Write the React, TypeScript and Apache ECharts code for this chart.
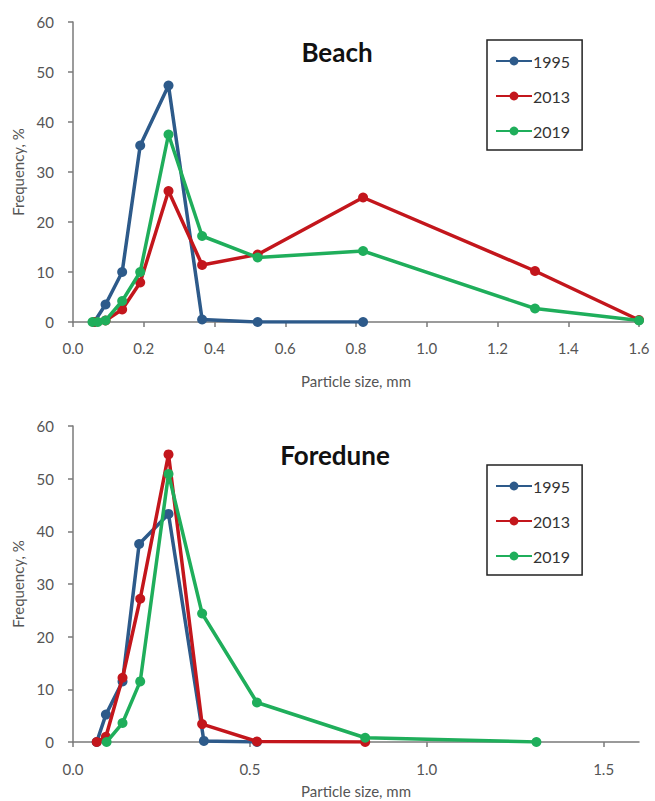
import React, { useEffect, useRef } from "react";
import * as echarts from "echarts";

const years = ["1995", "2013", "2019"];
const colors = ["#2d5a8a", "#c3161c", "#1fae5b"];

// Beach (particle size mm, frequency %)
const beachSize1995 = [0.06, 0.092, 0.139, 0.19, 0.27, 0.365, 0.522, 0.82];
const beach1995 = [0, 3.5, 10, 35.3, 47.3, 0.5, 0, 0];
const beachSize2013 = [0.06, 0.092, 0.139, 0.19, 0.27, 0.365, 0.522, 0.82, 1.306, 1.6];
const beach2013 = [0, 0.3, 2.5, 7.9, 26.2, 11.4, 13.5, 24.9, 10.2, 0.4];
const beachSize2019 = [0.055, 0.07, 0.092, 0.139, 0.19, 0.27, 0.365, 0.522, 0.82, 1.306, 1.6];
const beach2019 = [0, 0, 0.3, 4.2, 10, 37.5, 17.2, 12.9, 14.2, 2.7, 0.3];

// Foredune
const duneSize1995 = [0.067, 0.093, 0.14, 0.187, 0.27, 0.37, 0.52];
const dune1995 = [0, 5.2, 11.5, 37.6, 43.3, 0.2, 0];
const duneSize2013 = [0.067, 0.093, 0.14, 0.19, 0.27, 0.365, 0.52, 0.826];
const dune2013 = [0, 1, 12.2, 27.2, 54.6, 3.4, 0.1, 0];
const duneSize2019 = [0.095, 0.14, 0.19, 0.27, 0.365, 0.52, 0.826, 1.31];
const dune2019 = [0, 3.6, 11.5, 50.9, 24.4, 7.5, 0.8, 0];

const yTicks = { min: 0, max: 60, interval: 10 };
const beachXTicks = { min: 0, max: 1.6, interval: 0.2 };
const duneXTickValues = [0, 0.5, 1.0, 1.5];

const FONT = "Lato, 'Open Sans', sans-serif";

function pairs(xs: number[], ys: number[]) {
  return xs.map((x, i) => [x, ys[i]]);
}

export default function App() {
  const ref = useRef<HTMLDivElement>(null);
  useEffect(() => {
    if (!ref.current) return;
    const chart = echarts.init(ref.current, null, { renderer: "svg" });
    const axisColor = "#7a7a7a";
    const labelColor = "#555";
    const yAxisBase = (gridIndex: number, nameGap: number) => ({
      type: "value",
      gridIndex,
      min: yTicks.min,
      max: yTicks.max,
      interval: yTicks.interval,
      name: "Frequency, %",
      nameLocation: "middle",
      nameGap,
      nameTextStyle: { fontFamily: FONT, fontSize: 15, color: labelColor },
      axisLine: { show: true, lineStyle: { color: axisColor, width: 1.5 } },
      axisTick: { show: true, length: 5, lineStyle: { color: axisColor, width: 1.5 } },
      axisLabel: { fontFamily: FONT, fontSize: 15, color: labelColor, margin: 19 },
      splitLine: { show: false },
    });
    const seriesFor = (gridIdx: number, sets: number[][][]) =>
      sets.map((d, i) => ({
        type: "line",
        name: years[i],
        xAxisIndex: gridIdx,
        yAxisIndex: gridIdx,
        data: d,
        symbol: "circle",
        symbolSize: 10,
        lineStyle: { width: 3.5, color: colors[i] },
        itemStyle: { color: colors[i] },
        z: 2 + i,
      }));
    const legendBase = (top: number) => ({
      orient: "vertical",
      left: 487,
      top,
      data: years,
      borderColor: "#222",
      borderWidth: 1.5,
      padding: [13, 12, 11, 8],
      itemGap: 19,
      itemWidth: 36,
      itemHeight: 11,
      textStyle: { fontFamily: FONT, fontSize: 16, color: "#333", padding: [0, 0, 0, -4] },
      selectedMode: false,
    });
    chart.setOption({
      animation: false,
      backgroundColor: "#fff",
      color: colors,
      title: [
        {
          text: "Beach",
          left: 332,
          top: 34,
          textAlign: "center",
          textStyle: { fontFamily: FONT, fontSize: 26, fontWeight: "bold", color: "#111" },
        },
        {
          text: "Foredune",
          left: 330,
          top: 437,
          textAlign: "center",
          textStyle: { fontFamily: FONT, fontSize: 26, fontWeight: "bold", color: "#111" },
        },
      ],
      legend: [legendBase(40), legendBase(465)],
      grid: [
        { left: 73, right: 16, top: 22, height: 300 },
        { left: 73, right: 16, top: 426, height: 316 },
      ],
      xAxis: [
        {
          type: "value",
          gridIndex: 0,
          min: beachXTicks.min,
          max: beachXTicks.max,
          interval: beachXTicks.interval,
          name: "Particle size, mm",
          nameLocation: "middle",
          nameGap: 51,
          nameTextStyle: { fontFamily: FONT, fontSize: 15, color: labelColor },
          axisLine: { show: true, lineStyle: { color: axisColor, width: 1.5 } },
          axisTick: { show: true, length: 5, lineStyle: { color: axisColor, width: 1.5 } },
          axisLabel: {
            fontFamily: FONT,
            fontSize: 15,
            color: labelColor,
            margin: 18,
            formatter: (v: number) => v.toFixed(1),
          },
          splitLine: { show: false },
        },
        {
          type: "value",
          gridIndex: 1,
          min: 0,
          max: 1.6,
          name: "Particle size, mm",
          nameLocation: "middle",
          nameGap: 41,
          nameTextStyle: { fontFamily: FONT, fontSize: 15, color: labelColor },
          axisLine: { show: true, lineStyle: { color: axisColor, width: 1.5 } },
          axisTick: {
            show: true,
            length: 5,
            customValues: duneXTickValues,
            lineStyle: { color: axisColor, width: 1.5 },
          },
          axisLabel: {
            fontFamily: FONT,
            fontSize: 15,
            color: labelColor,
            margin: 19,
            customValues: duneXTickValues,
            formatter: (v: number) => v.toFixed(1),
          },
          splitLine: { show: false },
        },
      ],
      yAxis: [yAxisBase(0, 46), yAxisBase(1, 46)],
      series: [
        ...seriesFor(0, [
          pairs(beachSize1995, beach1995),
          pairs(beachSize2013, beach2013),
          pairs(beachSize2019, beach2019),
        ]),
        ...seriesFor(1, [
          pairs(duneSize1995, dune1995),
          pairs(duneSize2013, dune2013),
          pairs(duneSize2019, dune2019),
        ]),
      ],
    });
    return () => chart.dispose();
  }, []);
  return (
    <div
      ref={ref}
      style={{ position: "absolute", left: 0, top: 0, width: 655, height: 801 }}
    />
  );
}
